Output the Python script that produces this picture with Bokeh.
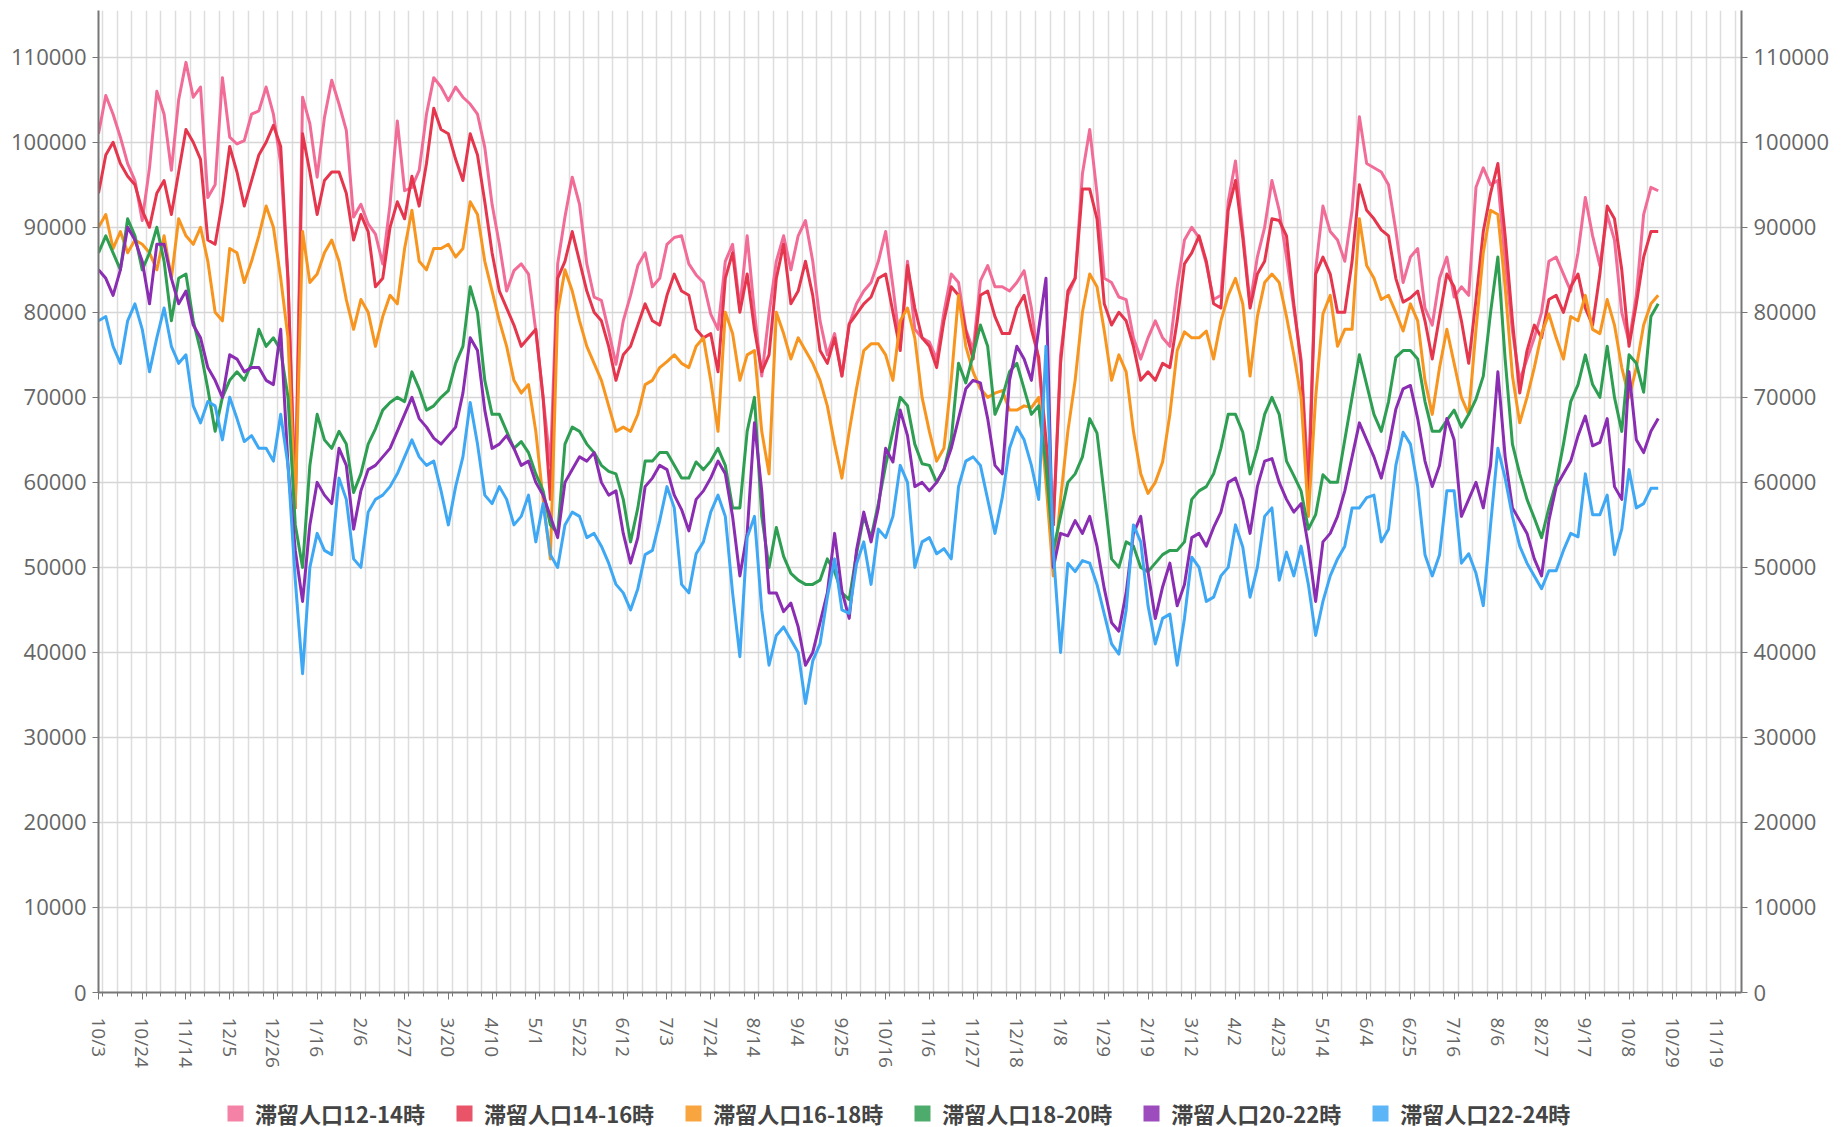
import math
from bokeh.plotting import figure
from bokeh.layouts import column
from bokeh.models import (LinearAxis, FixedTicker, BasicTickFormatter, Legend,
                          LegendItem, Range1d)
from bokeh.embed import file_html
from bokeh.resources import INLINE

# ---------------- data (values in thousands of people) ----------------
# one reading every 3.5 days starting 10/3 (day 0)
day_step = 3.5
n_points = 215

series_names = ["滞留人口12-14時", "滞留人口14-16時", "滞留人口16-18時",
                "滞留人口18-20時", "滞留人口20-22時", "滞留人口22-24時"]
series_colors = ["#F26C98", "#E5364E", "#F7951F", "#2E9E52", "#8B2DB2", "#3FA8F4"]

pop_12_14 = [
    101, 105.5, 103.3, 100.6, 97.5, 95.5, 90.8, 97, 106, 103.3,
    96.7, 105, 109.4, 105.3, 106.5, 93.5, 95, 107.6, 100.6, 99.8,
    100.2, 103.3, 103.7, 106.5, 103.3, 97.5, 83.7, 58, 105.3, 102.2,
    95.9, 102.9, 107.3, 104.5, 101.4, 91.2, 92.7, 90.4, 89.2, 85.7,
    92.7, 102.5, 94.3, 94.7, 96.7, 103.3, 107.6, 106.5, 104.9, 106.5,
    105.3, 104.5, 103.3, 99.4, 92.7, 88, 82.5, 84.9, 85.7, 84.5,
    77.8, 70, 62, 85.7, 91.2, 95.9, 92.7, 85.7, 81.8, 81.4,
    77.8, 73.9, 79, 82, 85.5, 87, 83, 84, 88, 88.8,
    89, 85.7, 84.4, 83.5, 79.8, 78, 86, 88, 80.5, 89,
    80, 72.5, 79.8, 86, 89, 85, 89, 90.8, 86, 79,
    75, 77.5, 72.5, 78.6, 81, 82.5, 83.5, 86, 89.5, 83,
    76, 86, 78, 77, 76.5, 74.5, 80, 84.5, 83.5, 78,
    75.5, 83.7, 85.5, 83, 83, 82.5, 83.5, 84.9, 80.5, 74,
    64, 55, 75, 82, 84, 96.3, 101.5, 94, 84, 83.5,
    81.8, 81.5, 77, 74.5, 77, 79, 77, 76, 83, 88.5,
    90, 88.8, 85.7, 81.5, 82, 93, 97.8, 89.5, 81, 86.5,
    90, 95.5, 92, 86.5, 80.5, 74.5, 60, 85, 92.5, 89.5,
    88.5, 86, 92, 103, 97.5, 97, 96.5, 95, 89.6, 83.5,
    86.5, 87.5, 80.5, 78.5, 84, 86.5, 81.8, 83, 82, 94.7,
    97, 95, 95.5, 86, 77.8, 72, 74.5, 77, 80, 86,
    86.5, 84.5, 82.5, 87, 93.5, 89, 85.5, 91.5, 88.5, 80,
    76.5, 82, 91.5, 94.7, 94.3]

pop_14_16 = [
    94, 98.5, 100, 97.5, 96, 95, 92, 90, 94, 95.5,
    91.5, 96.5, 101.5, 100, 98, 88.5, 88, 93, 99.5, 96.5,
    92.5, 95.5, 98.5, 100, 102, 99.5, 84, 57, 101, 96.5,
    91.5, 95.5, 96.5, 96.5, 94, 88.5, 91.5, 89.5, 83, 84,
    90, 93, 91, 96, 92.5, 97.5, 104, 101.5, 101, 98,
    95.5, 101, 98.5, 93, 87, 82.5, 80.5, 78.5, 76, 77,
    78, 70, 58, 84, 86, 89.5, 86, 82.5, 80, 79,
    76, 72, 75, 76, 78.5, 81, 79, 78.5, 82, 84.5,
    82.5, 82, 78, 77, 77.5, 73, 84, 87, 80, 84.5,
    78, 73, 75, 84, 88, 81, 82.5, 86, 82, 75.5,
    74, 77, 72.5, 78.6, 79.8, 81, 81.8, 84, 84.5, 80,
    75.5, 85.5, 80.5, 77, 76, 73.5, 79, 83, 82, 77.8,
    74.5, 82, 82.5, 79.5, 77.5, 77.5, 80.5, 82, 78, 74.7,
    65, 55, 74, 82.5, 84, 94.5, 94.5, 91, 81, 78.5,
    80, 79, 76, 72, 73, 72, 74, 73.5, 79, 85.7,
    87, 89, 86, 81, 80.5, 92, 95.5, 88.8, 80.5, 84.5,
    86, 91, 90.8, 89, 81, 74, 58, 84.5, 86.5, 84.5,
    80, 80, 86, 95, 92, 91, 89.7, 89, 84, 81.2,
    81.7, 82.5, 79, 74.5, 79.5, 84.5, 83, 79, 74, 81.5,
    89.5, 94, 97.5, 89, 79, 70.5, 75.5, 78.5, 77, 81.5,
    82, 80, 83, 84.5, 80.5, 78.5, 84.5, 92.5, 91, 85,
    76, 81, 86.5, 89.5, 89.5]

pop_16_18 = [
    90, 91.5, 87.5, 89.5, 87, 88.5, 88, 87, 85, 89,
    84, 91, 89, 88, 90, 86, 80, 79, 87.5, 87,
    83.5, 86, 89, 92.5, 90, 84, 77, 57, 89.5, 83.5,
    84.5, 87, 88.5, 86, 81.5, 78, 81.5, 80, 76, 79.5,
    82, 81, 87.5, 92, 86, 85, 87.5, 87.5, 88, 86.5,
    87.5, 93, 91.5, 86, 82.5, 79, 76, 72, 70.5, 71.5,
    66, 58, 51, 80, 85, 82.5, 79, 76, 74, 72,
    69, 66, 66.5, 66, 68, 71.5, 72, 73.5, 74.2, 75,
    74, 73.5, 76, 77, 72, 66, 80, 77.5, 72, 75,
    75.5, 66, 61, 80, 77.5, 74.5, 77, 75.5, 74, 72,
    69, 64.5, 60.5, 66, 71, 75.5, 76.3, 76.3, 75, 72,
    79, 80.5, 77, 70, 66, 62.5, 64, 72, 82, 76,
    73, 71, 70, 70.5, 70.8, 68.5, 68.5, 69, 68.8, 70,
    60, 49, 58, 66, 72, 80, 84.5, 83, 77.8, 72,
    75, 73, 66, 61, 58.7, 60, 62.4, 68, 75.5, 77.7,
    77, 77, 77.8, 74.5, 79, 82, 84, 81, 72.5, 79.5,
    83.5, 84.5, 83.5, 79.5, 75, 70, 56, 70, 79.8, 82,
    76, 78, 78, 91, 85.5, 84, 81.5, 82, 80, 77.8,
    81, 79, 72, 68, 73.5, 78, 74, 70, 68, 78,
    87, 92, 91.5, 83, 72.5, 67, 70, 73.5, 77.5, 79.8,
    77, 74.5, 79.5, 79, 82, 78, 77.5, 81.5, 78.5, 73.5,
    70, 73.5, 78.5, 81, 82]

pop_18_20 = [
    87, 89, 87, 85, 91, 89, 85, 87, 90, 86,
    79, 84, 84.5, 79, 75.5, 71, 66, 70, 72, 73,
    72, 74, 78, 76, 77, 75.5, 70, 55, 50, 62,
    68, 65, 64, 66, 64.5, 58.8, 61, 64.5, 66.3, 68.5,
    69.4, 70, 69.5, 73, 71, 68.5, 69, 70, 70.8, 74,
    76, 83, 80, 72, 68, 68, 66, 64, 64.8, 63.5,
    61, 59, 55, 54, 64.5, 66.5, 66, 64.5, 63.5, 62,
    61.3, 61, 58, 53, 57, 62.5, 62.5, 63.5, 63.5, 62,
    60.5, 60.5, 62.4, 61.5, 62.5, 64, 62, 57, 57, 66,
    70, 56, 50, 54.7, 51.3, 49.3, 48.5, 48, 48, 48.5,
    51, 49.5, 47, 46.2, 51.6, 56, 53.5, 57.5, 62, 66,
    70, 69, 64.5, 62.2, 62, 60, 61.5, 65, 74, 71.7,
    75, 78.5, 76, 68, 70, 73, 74, 71, 68, 69,
    62, 52, 56, 60, 61, 63, 67.5, 65.8, 58.5, 51,
    50, 53, 52.5, 50, 49.5, 50.5, 51.5, 52, 52, 53,
    58, 59, 59.5, 61, 64, 68, 68, 65.9, 61, 64,
    68, 70, 68, 62.5, 60.8, 59, 54.5, 56.2, 60.9, 60,
    60, 65, 70, 75, 71.5, 68, 66, 69.5, 74.7, 75.5,
    75.5, 74.5, 69.5, 66, 66, 67.3, 68.5, 66.5, 68, 69.8,
    72.5, 80, 86.5, 74.5, 64.5, 61, 58, 55.8, 53.5, 57,
    60, 64.5, 69.5, 71.5, 75, 71.5, 70, 76, 70, 66,
    75, 74, 70.6, 79.5, 81]

pop_20_22 = [
    85, 84, 82, 85, 90, 88.5, 86, 81, 88, 88,
    84, 81, 82.5, 78.5, 77, 73.5, 72, 70, 75, 74.5,
    73, 73.5, 73.5, 72, 71.5, 78, 62, 52, 46, 55,
    60, 58.5, 57.5, 64, 62, 54.5, 59, 61.5, 62, 63,
    64, 66, 68, 70, 67.5, 66.5, 65.2, 64.5, 65.5, 66.5,
    70.5, 77, 75.5, 68.5, 64, 64.5, 65.5, 64, 62, 62.5,
    60, 58.5, 56, 53.5, 60, 61.5, 63, 62.5, 63.5, 60,
    58.5, 59, 54, 50.5, 53.5, 59.5, 60.5, 62, 61.5, 58.5,
    56.8, 54.3, 58, 59, 60.5, 62.5, 61, 56, 49, 54,
    67, 59, 47, 47, 44.8, 45.8, 43, 38.5, 40, 43.5,
    47, 54, 47.2, 44, 52, 56.5, 53, 57, 64, 62.4,
    68.5, 65.5, 59.5, 60, 59, 60, 61.5, 64, 67.5, 71,
    72, 71.7, 67.5, 62, 61, 72, 76, 74.5, 72, 78,
    84, 50, 54, 53.7, 55.5, 54, 56, 52.5, 47.5, 43.5,
    42.5, 47, 54, 56, 49.5, 44, 47.7, 50.5, 45.5, 48,
    53.5, 54, 52.5, 54.7, 56.5, 60, 60.5, 58, 54, 59.5,
    62.5, 62.8, 60, 58, 56.5, 57.5, 52.5, 46, 53, 54,
    56, 59, 63, 67, 65, 63, 60.5, 64, 68.6, 71,
    71.4, 67.5, 62.5, 59.5, 62, 67.5, 65, 56, 58, 60,
    57, 62, 73, 63, 57, 55.5, 54, 51, 49, 55.5,
    59.5, 61, 62.5, 65.5, 67.8, 64.3, 64.7, 67.5, 59.5, 58,
    73, 65, 63.5, 66, 67.5]

pop_22_24 = [
    79, 79.5, 76, 74, 79, 81, 78, 73, 77, 80.5,
    76, 74, 75, 69, 67, 69.5, 69, 65, 70, 67.5,
    64.8, 65.5, 64, 64, 62.5, 68, 62, 48.5, 37.5, 50,
    54, 52, 51.5, 60.5, 58, 51, 50, 56.5, 58, 58.5,
    59.5, 61, 63, 65, 63, 62, 62.5, 59, 55, 59.5,
    63, 69.4, 64.5, 58.5, 57.5, 59.5, 58, 55, 56, 58.5,
    53, 57.5, 51.5, 50, 55, 56.5, 56, 53.5, 54, 52.5,
    50.5, 48, 47, 45, 47.5, 51.5, 52, 55.5, 59.5, 57,
    48, 47, 51.6, 53, 56.5, 58.5, 56, 47, 39.5, 53.5,
    56, 45, 38.5, 42, 43, 41.5, 40, 34, 39, 41,
    46.5, 51, 45, 44.6, 50.4, 53, 48, 54.5, 53.5, 56,
    62, 60, 50, 53, 53.5, 51.6, 52.2, 51, 59.5, 62.5,
    63, 62, 58, 54, 58.2, 64, 66.5, 65, 62, 58,
    76, 52, 40, 50.5, 49.5, 50.8, 50.5, 48, 44.5, 41,
    39.8, 45, 55, 53, 45.5, 41, 44, 44.5, 38.5, 44,
    51.2, 50, 46, 46.5, 49, 50, 55, 52.4, 46.5, 50,
    56, 57, 48.5, 51.8, 49, 52.5, 48, 42, 46, 49,
    51, 52.5, 57, 57, 58.2, 58.5, 53, 54.5, 62, 65.9,
    64.5, 59.5, 51.5, 49, 51.5, 59, 59, 50.5, 51.6, 49.3,
    45.5, 55, 64, 60.5, 56, 52.5, 50.5, 49, 47.5, 49.6,
    49.6, 52, 54, 53.6, 61, 56.2, 56.2, 58.5, 51.5, 54.5,
    61.5, 57, 57.5, 59.3, 59.3]

all_series = [pop_12_14, pop_14_16, pop_16_18, pop_18_20, pop_20_22, pop_22_24]

# x-axis: tick every 21 days from 10/3
tick_labels = ["10/3", "10/24", "11/14", "12/5", "12/26", "1/16", "2/6", "2/27",
               "3/20", "4/10", "5/1", "5/22", "6/12", "7/3", "7/24", "8/14",
               "9/4", "9/25", "10/16", "11/6", "11/27", "12/18", "1/8", "1/29",
               "2/19", "3/12", "4/2", "4/23", "5/14", "6/4", "6/25", "7/16",
               "8/6", "8/27", "9/17", "10/8", "10/29", "11/19"]
tick_interval_days = 21
y_ticks = [0, 10000, 20000, 30000, 40000, 50000, 60000, 70000, 80000,
           90000, 100000, 110000]

for s in all_series:
    assert len(s) == n_points, len(s)

days = [i * day_step for i in range(n_points)]
tick_days = [j * tick_interval_days for j in range(len(tick_labels))]
week_lines = [2 + 7 * k for k in range(113)]

# ---------------- main figure ----------------
p = figure(frame_width=1643, frame_height=982,
           x_range=Range1d(0, 789), y_range=Range1d(0, 115500),
           output_backend="svg", toolbar_location=None,
           min_border_left=98, min_border_right=97,
           min_border_top=10, min_border_bottom=0)
p.outline_line_color = None
p.background_fill_color = "white"

label_font = "Open Sans"
axis_col = "#777777"
text_col = "#666666"

# y axes (left + right)
p.yaxis.ticker = FixedTicker(ticks=y_ticks)
p.yaxis.formatter = BasicTickFormatter(use_scientific=False)
right_axis = LinearAxis(ticker=FixedTicker(ticks=y_ticks),
                        formatter=BasicTickFormatter(use_scientific=False))
p.add_layout(right_axis, "right")

for ax in [p.yaxis[0], right_axis]:
    ax.axis_line_color = axis_col
    ax.axis_line_width = 2
    ax.major_tick_line_color = axis_col
    ax.major_tick_out = 6
    ax.major_tick_in = 0
    ax.minor_tick_line_color = None
    ax.major_label_text_font = label_font
    ax.major_label_text_font_size = "22px"
    ax.major_label_text_color = text_col
    ax.major_label_standoff = 6

# x axis
xa = p.xaxis[0]
xa.ticker = FixedTicker(ticks=tick_days, minor_ticks=week_lines)
xa.major_label_overrides = {d: lbl for d, lbl in zip(tick_days, tick_labels)}
xa.major_label_orientation = -math.pi / 2
xa.axis_line_color = axis_col
xa.axis_line_width = 2
xa.major_tick_line_color = axis_col
xa.major_tick_out = 7
xa.major_tick_in = 0
xa.minor_tick_line_color = axis_col
xa.minor_tick_out = 4
xa.minor_tick_in = 0
xa.major_label_text_font = label_font
xa.major_label_text_font_size = "19px"
xa.major_label_text_color = text_col
xa.major_label_standoff = 18

# grids
p.xgrid.ticker = FixedTicker(ticks=week_lines)
p.xgrid.grid_line_color = "#dddddd"
p.xgrid.grid_line_width = 1.5
p.ygrid.ticker = FixedTicker(ticks=y_ticks)
p.ygrid.grid_line_color = "#d6d6d6"
p.ygrid.grid_line_width = 1.5

# lines
for vals, col in zip(all_series, series_colors):
    p.line(days, [v * 1000 for v in vals], line_color=col, line_width=3,
           line_join="round")

# ---------------- legend strip (separate small figure) ----------------
lg = figure(width=1838, height=36, x_range=Range1d(0, 1), y_range=Range1d(0, 1),
            output_backend="svg", toolbar_location=None,
            x_axis_location=None, y_axis_location=None, min_border=0)
lg.outline_line_color = None
lg.grid.visible = False
lg.margin = (25, 0, 0, 0)

nan = float("nan")
items = []
for name, col in zip(series_names, series_colors):
    r = lg.quad(left=[nan], right=[nan], top=[nan], bottom=[nan], fill_color=col,
                fill_alpha=0.85, line_color=None)
    items.append(LegendItem(label=name, renderers=[r]))

legend = Legend(items=items, orientation="horizontal", location=(127, 2),
                glyph_width=20, glyph_height=20, label_standoff=10, spacing=29,
                label_text_font="Noto Sans CJK JP", label_text_font_style="bold",
                label_text_font_size="22px", label_text_color="#444444",
                border_line_color=None, background_fill_alpha=0,
                padding=0, margin=0)
lg.add_layout(legend, "center")

layout = column(p, lg)
open("out.html", "w").write(file_html(layout, INLINE))
